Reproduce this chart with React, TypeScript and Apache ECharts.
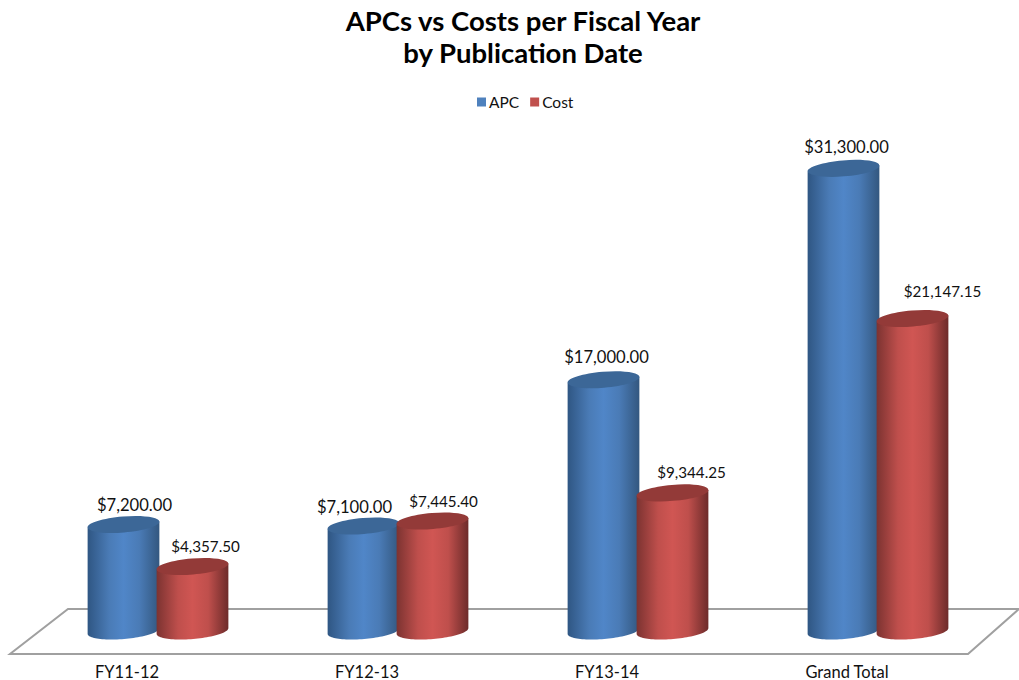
import React, { useEffect, useRef } from "react";
import * as echarts from "echarts";

const categories = ["FY11-12", "FY12-13", "FY13-14", "Grand Total"];
const apcValues = [7200, 7100, 17000, 31300];
const costValues = [4357.5, 7445.4, 9344.25, 21147.15];

const FONT = "Lato";
const RX = 36;
const RY = 8;
const TILT = Math.atan2(6, 72);

// Cosmetic label nudges, relative to the top of each cylinder [dx, dy]
const apcLabelNudge = [[11, -20], [-9, -19], [3, -23], [3, -21]];
const costLabelNudge = [[13, -21], [11, -20], [19, -21], [30, -27]];

const money = (v: number) =>
  "$" + v.toLocaleString("en-US", { minimumFractionDigits: 2, maximumFractionDigits: 2 });

function ellipsePoint(cx: number, cy: number, t: number) {
  const x = RX * Math.cos(t);
  const y = RY * Math.sin(t);
  return [cx + x * Math.cos(TILT) + y * Math.sin(TILT), cy - x * Math.sin(TILT) + y * Math.cos(TILT)];
}

function cylinder(
  offset: number,
  stops: string[],
  topColor: string,
  nudges: number[][],
  fontSize: number
) {
  return (params: any, api: any) => {
    const i = api.value(0);
    const v = api.value(1);
    const [cx0, yTop] = api.coord([i, v]);
    const [, yBase] = api.coord([i, 0]);
    const cx = cx0 + offset;
    const pts: number[][] = [];
    const n = 48;
    pts.push(ellipsePoint(cx, yTop, Math.PI));
    for (let k = 0; k <= n; k++) {
      pts.push(ellipsePoint(cx, yBase, Math.PI - (Math.PI * k) / n));
    }
    pts.push(ellipsePoint(cx, yTop, 0));
    const [dx, dy] = nudges[i];
    return {
      type: "group",
      children: [
        {
          type: "polygon",
          shape: { points: pts },
          style: {
            fill: new echarts.graphic.LinearGradient(0, 0, 1, 0, [
              { offset: 0, color: stops[0] },
              { offset: 0.3, color: stops[1] },
              { offset: 0.5, color: stops[2] },
              { offset: 0.72, color: stops[1] },
              { offset: 1, color: stops[3] },
            ]),
          },
        },
        {
          type: "ellipse",
          shape: { cx: 0, cy: 0, rx: RX, ry: RY },
          x: cx,
          y: yTop,
          rotation: TILT,
          style: { fill: topColor },
        },
        {
          type: "text",
          x: cx + dx,
          y: yTop + dy,
          style: {
            text: money(v),
            fill: "#111",
            font: `${fontSize}px ${FONT}`,
            textAlign: "center",
            textVerticalAlign: "middle",
          },
        },
      ],
    };
  };
}

export default function App() {
  const ref = useRef<HTMLDivElement>(null);
  useEffect(() => {
    const chart = echarts.init(ref.current!, null, { renderer: "svg" });
    chart.setOption({
      animation: false,
      backgroundColor: "#fff",
      title: {
        text: "APCs vs Costs per Fiscal Year\nby Publication Date",
        left: 518,
        top: -1,
        textAlign: "center",
        textStyle: { fontFamily: FONT, fontWeight: "bold", fontSize: 27.5, lineHeight: 32, color: "#000" },
      },
      legend: {
        left: 472,
        top: 89,
        itemWidth: 9,
        itemHeight: 9,
        itemGap: 11,
        textStyle: { fontFamily: FONT, fontSize: 15.5, color: "#111", padding: [0, 0, 0, -2] },
        data: [
          { name: "APC", icon: "rect", itemStyle: { color: "#4f81bd" } },
          { name: "Cost", icon: "rect", itemStyle: { color: "#c0504d" } },
        ],
      },
      graphic: [
        {
          type: "polygon",
          z: -1,
          shape: { points: [[68, 609], [1019, 609], [968, 654], [10, 654]] },
          style: { fill: "#fff", stroke: "#a0a0a0", lineWidth: 2 },
        },
      ],
      grid: { left: 38, right: 21, top: 113.7, bottom: 48 },
      xAxis: {
        type: "category",
        data: categories,
        axisLine: { show: false },
        axisTick: { show: false },
        axisLabel: {
          margin: 32,
          fontFamily: FONT,
          fontSize: 16.5,
          color: "#111",
          padding: [0, 62, 0, 0],
        },
      },
      yAxis: { type: "value", min: 0, max: 35000, show: false, splitLine: { show: false } },
      series: [
        {
          name: "APC",
          type: "custom",
          z: 5,
          clip: false,
          itemStyle: { color: "#4f81bd" },
          encode: { x: 0, y: 1 },
          data: apcValues.map((v, i) => [i, v]),
          renderItem: cylinder(-34.5, ["#2f5683", "#4a7bb6", "#5086c8", "#33577f"], "#3c6797", apcLabelNudge, 16.6),
        },
        {
          name: "Cost",
          type: "custom",
          z: 6,
          clip: false,
          itemStyle: { color: "#c0504d" },
          encode: { x: 0, y: 1 },
          data: costValues.map((v, i) => [i, v]),
          renderItem: cylinder(34.5, ["#7c3331", "#bf4f4c", "#d05653", "#6d2b2a"], "#933a38", costLabelNudge, 15.2),
        },
      ],
    });
    return () => chart.dispose();
  }, []);
  return (
    <div
      ref={ref}
      style={{ position: "fixed", left: 0, top: 0, width: 1019, height: 680 }}
    />
  );
}
